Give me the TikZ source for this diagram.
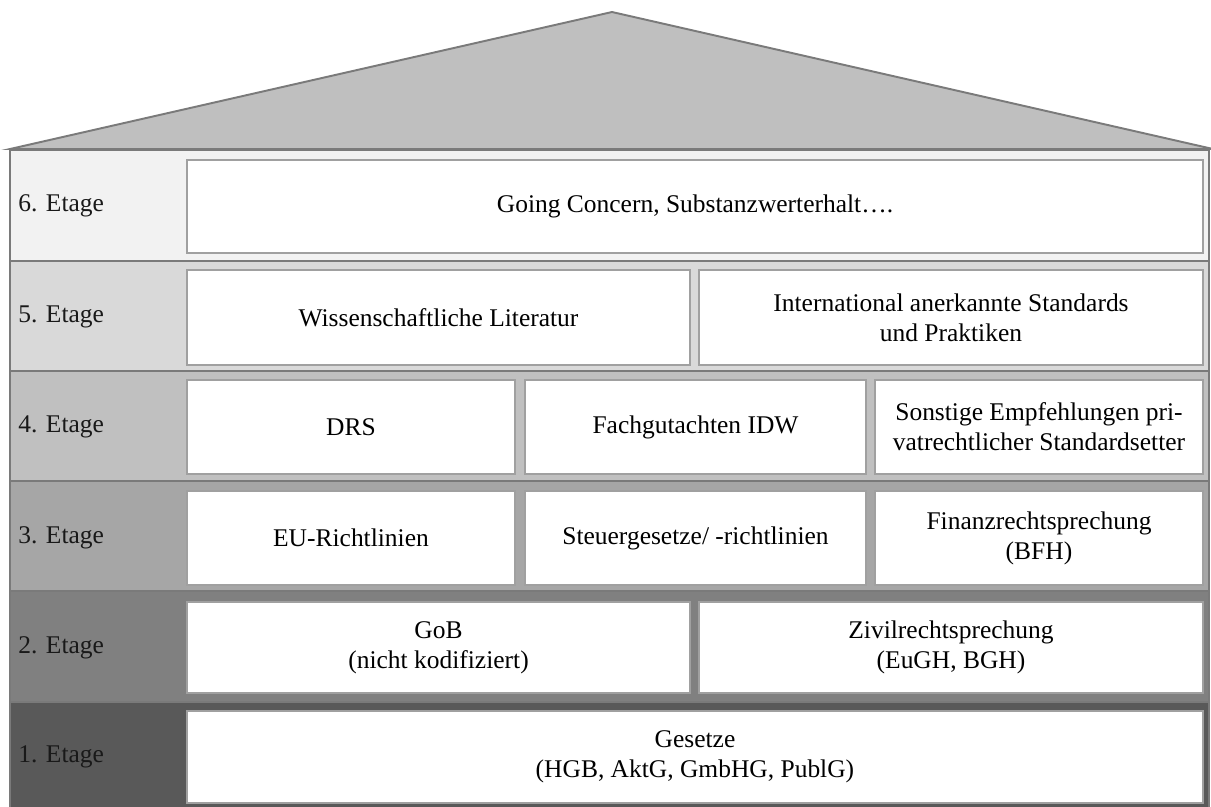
\documentclass[tikz,border=0pt]{standalone}
\usepackage{fontspec}
\setmainfont{Liberation Serif}
\usepackage{xcolor}
\usepackage{tikz}

\definecolor{etage1}{HTML}{595959}
\definecolor{etage2}{HTML}{808080}
\definecolor{etage3}{HTML}{A6A6A6}
\definecolor{etage4}{HTML}{C0C0C0}
\definecolor{etage5}{HTML}{D9D9D9}
\definecolor{etage6}{HTML}{F2F2F2}
\definecolor{dachgrau}{HTML}{BFBFBF}
\definecolor{rand}{HTML}{7A7A7A}
\definecolor{feldrand}{HTML}{A0A0A0}

\tikzset{
  etage/.style={draw=rand, line width=1.1pt},
  feld/.style={fill=white, draw=feldrand, line width=0.9pt},
  stock/.style={anchor=west, inner sep=0pt, text=black!90},
}

\begin{document}
\begin{tikzpicture}[x=0.2mm, y=-0.2mm, every node/.style={font=\fontsize{14.5}{17}\selectfont, align=center}]
        \useasboundingbox (0,0) rectangle (1211,806);
        % Dach
        \filldraw[fill=dachgrau, etage] (10,149) -- (612,12) -- (1213,149) -- cycle;
        % Etagen
        \filldraw[etage, fill=etage6] (10,150) rectangle (1209,261);
        \filldraw[etage, fill=etage5] (10,261) rectangle (1209,371);
        \filldraw[etage, fill=etage4] (10,371) rectangle (1209,481);
        \filldraw[etage, fill=etage3] (10,481) rectangle (1209,591);
        \filldraw[etage, fill=etage2] (10,591) rectangle (1209,702);
        \filldraw[etage, fill=etage1] (10,702) rectangle (1209,812);
        \node[stock] (e6) at (18,206) {6. Etage};
        \node[stock] (e5) at (18,317) {5. Etage};
        \node[stock] (e4) at (18,427) {4. Etage};
        \node[stock] (e3) at (18,538) {3. Etage};
        \node[stock] (e2) at (18,648) {2. Etage};
        \node[stock] (e1) at (18,757) {1. Etage};
        % 6. Etage
        \filldraw[feld] (187,160) rectangle (1203,253) 
        node[pos=.5] (going) {Going Concern, Substanzwerterhalt….};
        % 5. Etage
        \filldraw[feld] (187,270) rectangle (690,365) 
        node[pos=.5] (literatur) {Wissenschaftliche Literatur};
        \filldraw[feld] (699,270) rectangle (1203,365) 
        node[pos=.5] (standards) {International anerkannte Standards\\und Praktiken};
        % 4. Etage
        \filldraw[feld] (187,380) rectangle (515,474) 
        node[pos=.5] (drs) {DRS};
        \filldraw[feld] (525,380) rectangle (866,474) 
        node[pos=.5] (idw) {Fachgutachten IDW};
        \filldraw[feld] (875,380) rectangle (1203,474) 
        node[pos=.5] (sonstige) {Sonstige Empfehlungen pri-\\vatrechtlicher Standardsetter};
        % 3. Etage
        \filldraw[feld] (187,491) rectangle (515,585) 
        node[pos=.5] (eu) {EU-Richtlinien};
        \filldraw[feld] (525,491) rectangle (866,585) 
        node[pos=.5] (steuer) {Steuergesetze/ -richtlinien};
        \filldraw[feld] (875,491) rectangle (1203,585) 
        node[pos=.5] (bfh) {Finanzrechtsprechung\\(BFH)};
        % 2. Etage
        \filldraw[feld] (187,602) rectangle (690,693) 
        node[pos=.5] (gob) {GoB\\(nicht kodifiziert)};
        \filldraw[feld] (699,602) rectangle (1203,693) 
        node[pos=.5] (zivil) {Zivilrechtsprechung\\(EuGH, BGH)};
        % 1. Etage
        \filldraw[feld] (187,711) rectangle (1203,803) 
        node[pos=.5] (gesetze) {Gesetze\\(HGB, AktG, GmbHG, PublG)};
    \end{tikzpicture}
\end{document}
